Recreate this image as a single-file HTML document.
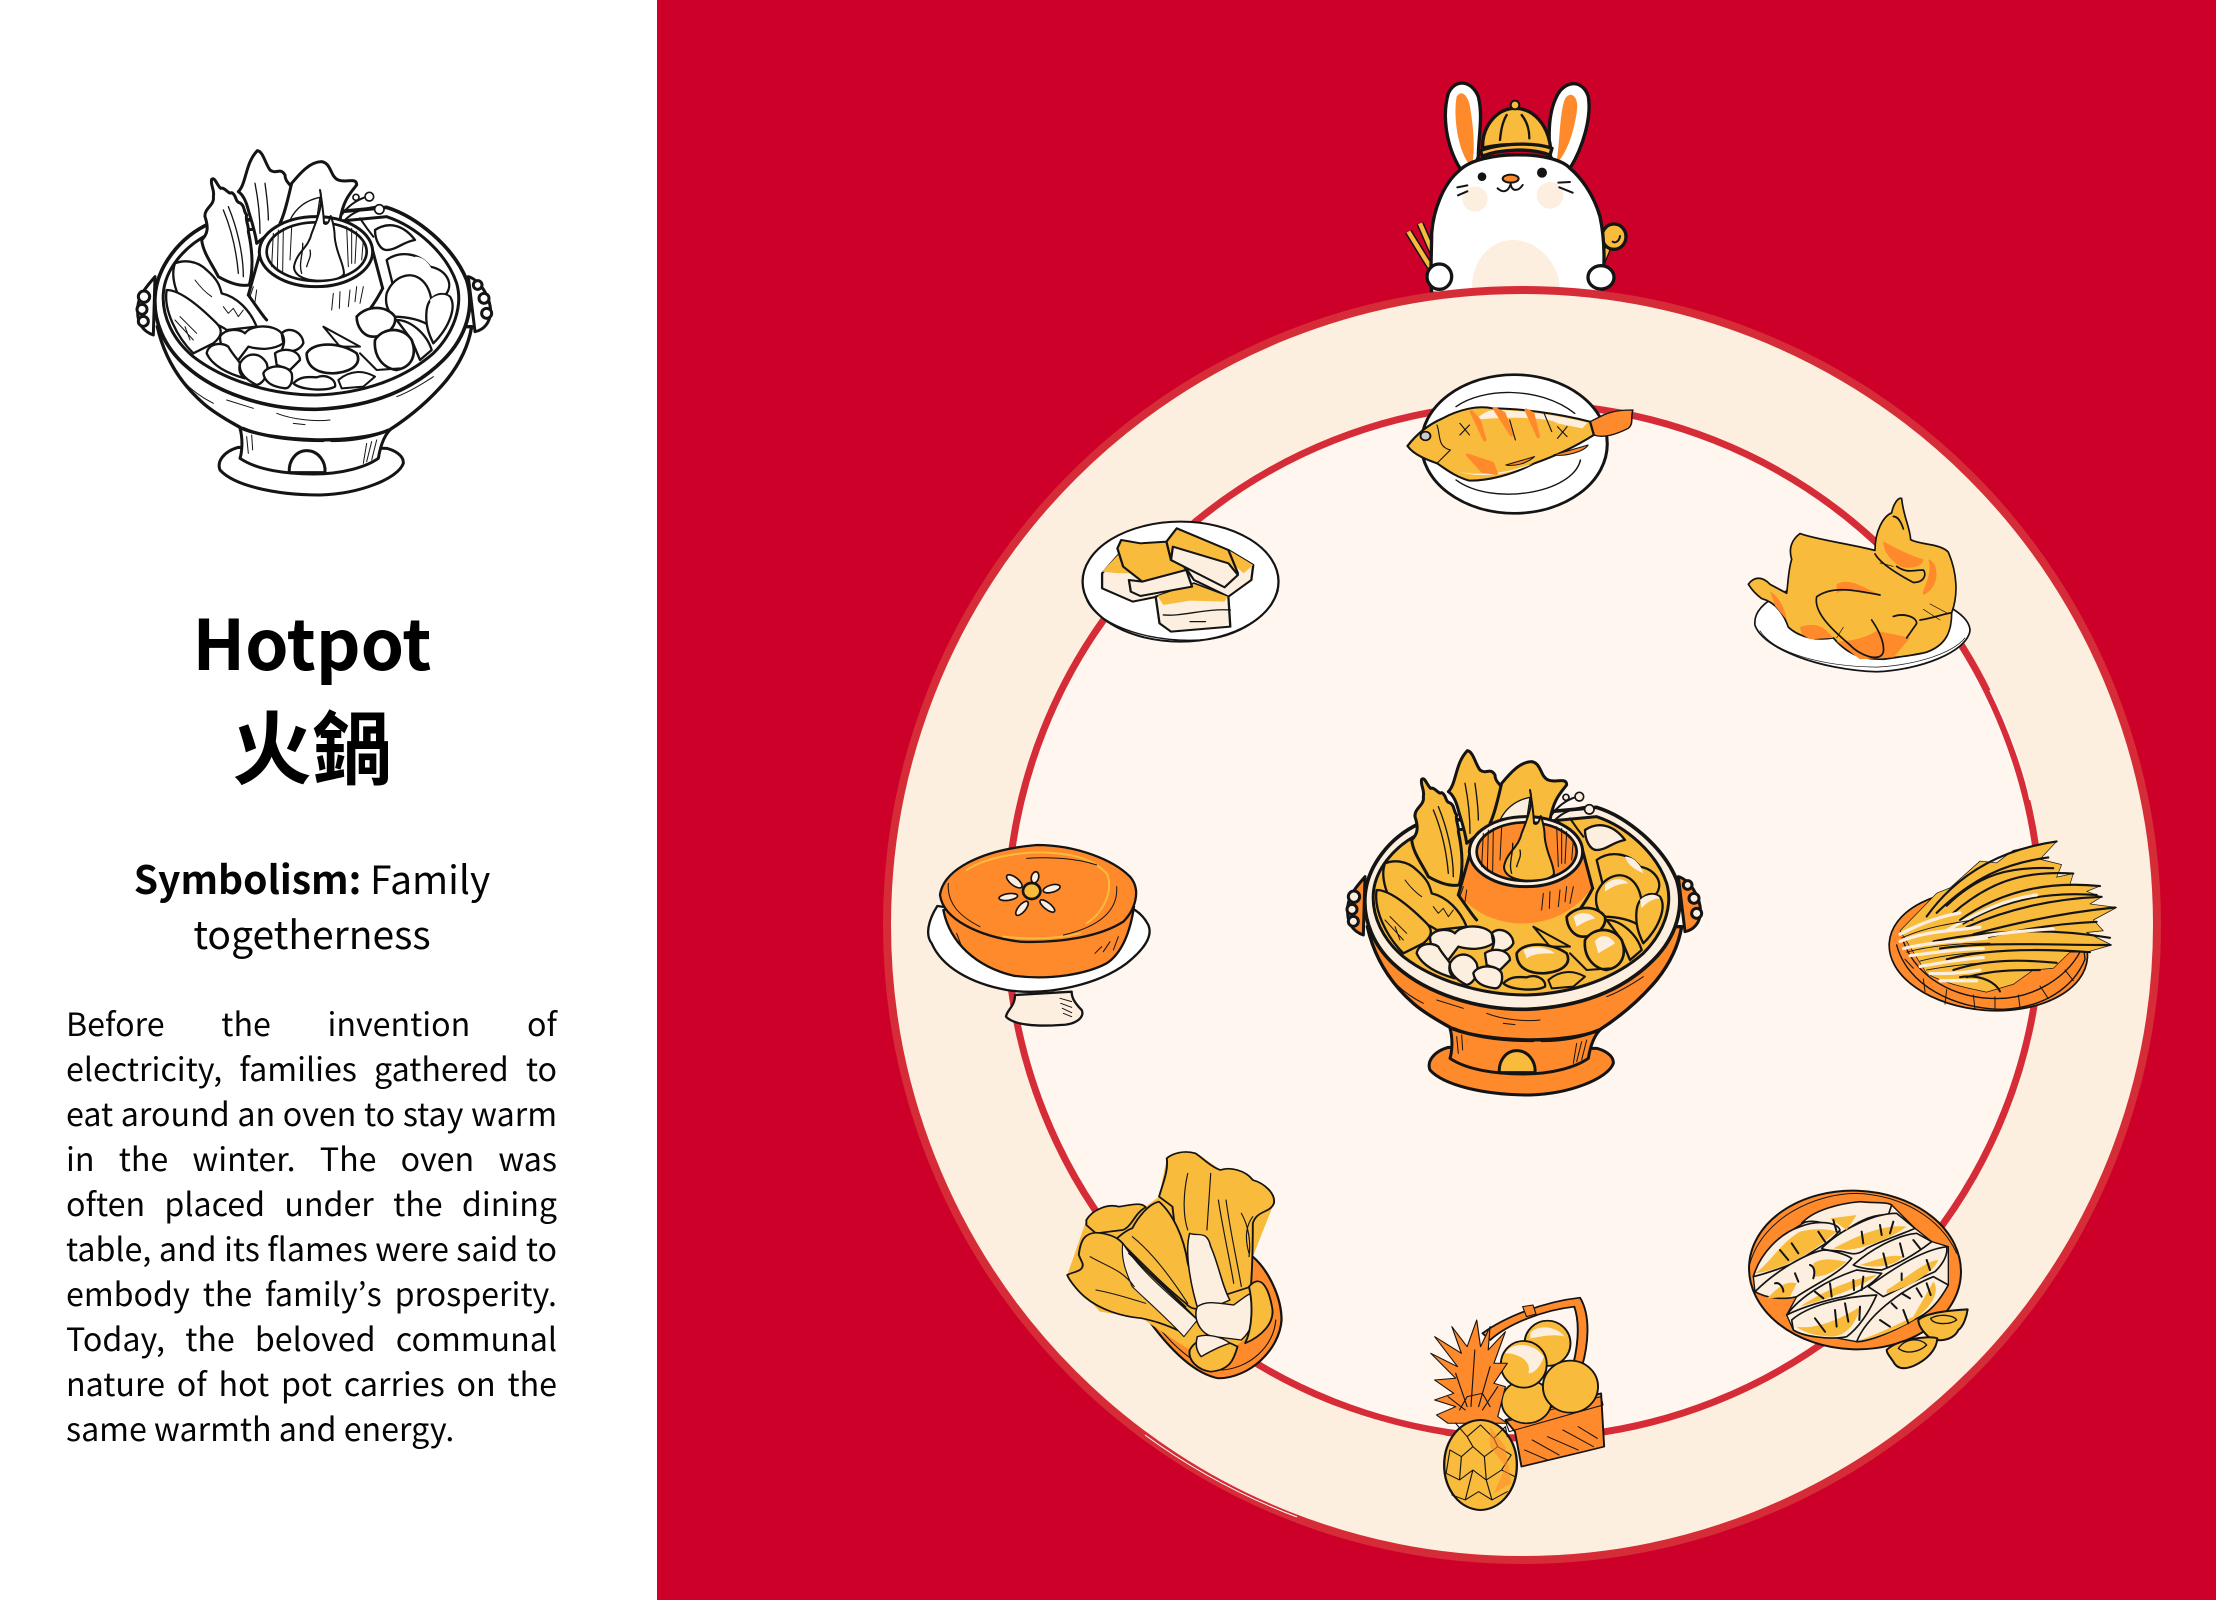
<!DOCTYPE html>
<html><head><meta charset="utf-8">
<style>
html,body{margin:0;padding:0;background:#fff}
#p{position:relative;width:2216px;height:1600px;overflow:hidden;background:#fff;font-family:"Noto Sans CJK TC","Liberation Sans",sans-serif;color:#050505}
svg{position:absolute;left:0;top:0}
.t{position:absolute;white-space:nowrap}
.c{left:0;width:624px;text-align:center}
.b{left:66px;width:491px;font-size:32.2px;line-height:45px;height:45px;text-align:justify;text-align-last:justify;white-space:normal;word-spacing:-2px}
.q{font-family:"Noto Sans CJK JP","Liberation Sans",sans-serif;font-feature-settings:"pwid"}
</style></head><body><div id="p">
<svg width="2216" height="1600" viewBox="0 0 2216 1600" xmlns="http://www.w3.org/2000/svg">
<defs>
<g id="pot" stroke="#141414" stroke-width="9" stroke-linejoin="round" stroke-linecap="round">
  <path d="M165 470C140 500 110 530 113 575C112 610 130 635 160 645Z" fill="var(--o)"/>
  <circle cx="132" cy="530" r="17" fill="var(--c)"/><circle cx="126" cy="568" r="15" fill="var(--c)"/><circle cx="130" cy="604" r="15" fill="var(--c)"/>
  <path d="M1105 470C1130 475 1170 520 1172 575C1170 610 1150 630 1125 635Z" fill="var(--o)"/>
  <circle cx="1133" cy="495" r="13" fill="var(--c)"/><circle cx="1152" cy="535" r="15" fill="var(--c)"/><circle cx="1160" cy="580" r="15" fill="var(--c)"/>
  <path d="M415 982C370 995 350 1025 360 1050C400 1095 520 1125 660 1125C780 1122 895 1075 910 1030C912 1005 880 990 860 985Z" fill="var(--o)"/>
  <path d="M420 925C430 960 425 1000 420 1015C470 1050 560 1062 640 1062C730 1062 800 1040 835 1015C840 985 850 950 870 930Z" fill="var(--o)"/>
  <path d="M568 1058C565 1020 590 992 620 992C655 992 678 1025 675 1058Z" fill="var(--y)"/>
  <path d="M172 620C190 700 230 780 310 850C350 885 400 910 425 925C520 965 760 975 868 930C930 890 990 840 1040 780C1080 730 1105 680 1115 620Z" fill="var(--o)" stroke-width="10"/>
  <path d="M430 925C500 955 590 962 670 962M695 962C760 962 820 950 865 930" fill="none"/>
  <path d="M530 880C580 900 650 905 690 900M580 910L615 914M380 840L460 865M230 760C260 800 300 830 340 850M890 830C930 815 970 790 1000 770M440 950L445 1000M830 960L815 1020M800 970L790 1030M455 945L458 990M815 965L800 1025" fill="none" stroke-width="3"/>
  <path d="M165 530C170 440 240 350 330 310L860 262C950 290 1060 380 1100 480C1125 560 1100 650 1030 720C950 800 830 860 650 868C500 870 350 820 260 740C190 680 160 600 165 530Z" fill="var(--c)" stroke-width="11"/>
  <path d="M190 520C195 450 250 380 330 340L860 290C950 320 1040 400 1070 490C1090 560 1060 640 1000 700C920 770 800 820 650 825C510 825 370 780 280 710C220 660 185 590 190 520Z" fill="var(--y)"/>
  <path d="M335 178C345 170 350 195 362 205C375 200 385 225 395 218C410 225 405 245 418 248C435 255 430 275 440 285C435 300 448 320 445 335C455 380 462 440 448 495C420 500 390 490 355 470C335 430 310 400 305 360C325 340 325 320 315 290C312 265 345 255 340 230C345 210 330 195 335 178Z" fill="var(--y)"/>
  <path d="M385 260C410 320 430 400 430 470M370 270C395 330 410 400 415 460" fill="none" stroke-width="4"/>
  <path d="M415 215C440 190 435 130 472 92C490 95 495 130 510 150C530 165 540 140 555 165C555 190 580 195 578 215C570 240 560 280 545 310L470 370C465 330 450 290 445 270C440 250 430 225 415 215Z" fill="var(--y)"/>
  <path d="M465 190C475 240 480 290 480 340M495 190C500 230 505 260 505 300" fill="none" stroke-width="4"/>
  <path d="M575 190C600 160 630 125 665 125C695 130 690 170 715 180C740 190 770 170 770 195C750 220 730 240 720 300L540 310C555 280 565 230 575 190Z" fill="var(--y)"/>
  <path d="M570 300C590 260 620 240 660 232L650 300Z" fill="var(--c)" stroke-width="4"/>
  <path d="M725 285C745 255 770 240 800 230M735 300C760 275 790 265 830 260M780 295C790 310 800 325 820 350" fill="none" stroke-width="6"/>
  <circle cx="808" cy="230" r="13" fill="var(--c)" stroke-width="5"/><circle cx="838" cy="268" r="14" fill="var(--c)" stroke-width="5"/><circle cx="768" cy="232" r="9" fill="var(--c)" stroke-width="5"/>
  <path d="M825 330C870 300 915 320 945 360C910 365 890 390 860 390C840 390 825 360 825 330Z" fill="var(--c)" stroke-width="7"/>
  <path d="M860 420C900 390 960 400 990 440C1040 450 1060 490 1040 520L990 560L880 500Z" fill="var(--y)" stroke-width="7"/>
  <path d="M945 410C975 410 995 440 1000 460C980 450 955 440 945 410Z" fill="var(--c)" stroke="none"/>
  <path d="M860 520C880 470 930 450 965 480C1000 510 1000 570 990 620C970 600 920 590 880 590C860 570 855 545 860 520Z" fill="var(--y)" stroke-width="7"/>
  <path d="M885 495C905 475 935 470 955 490C930 490 905 500 885 515Z" fill="var(--c)" stroke="none"/>
  <path d="M980 570C985 530 1020 510 1050 530C1070 560 1050 620 1000 670C985 640 975 610 980 570Z" fill="var(--y)" stroke-width="7"/>
  <path d="M990 540C1010 520 1040 520 1050 535C1030 535 1005 550 995 565Z" fill="var(--c)" stroke="none"/>
  <path d="M445 520C490 580 560 605 620 610C720 615 800 570 848 500L815 380L480 400Z" fill="var(--o)" stroke="none"/>
  <path d="M480 400L445 525M815 380L848 505" fill="none"/>
  <path d="M445 525C470 560 490 590 500 600M848 505C830 540 810 570 790 590" fill="none"/>
  <ellipse cx="648" cy="395" rx="170" ry="105" fill="var(--c)"/>
  <ellipse cx="650" cy="395" rx="150" ry="88" fill="var(--o)" stroke-width="8"/>
  <path d="M520 340L515 440M535 330L532 450M550 325L548 455M575 320L570 420M740 320L745 440M755 325L755 430M770 335L765 430M790 360L785 420M460 500L450 530M470 510L465 545M700 520L695 570M720 515L718 565M750 510L745 560M770 500L765 545M790 500L780 550" fill="none" stroke-width="3"/>
  <path d="M660 210C672 255 650 300 635 340C625 385 590 395 582 440C582 465 610 480 650 482C685 482 722 478 732 462C732 430 708 400 704 350C704 330 698 300 692 288C686 310 680 315 672 310C670 270 665 240 660 210Z" fill="var(--y)" stroke-width="6"/>
  <path d="M608 370C610 400 595 430 605 460M620 440C625 420 635 410 630 390" fill="none" stroke-width="4"/>
  <path d="M225 430C250 420 290 420 320 450C355 480 360 500 365 520C410 530 450 570 470 620L380 630C340 600 280 600 260 570C230 530 210 470 225 430Z" fill="var(--y)" stroke-width="7"/>
  <path d="M200 510C240 510 300 560 350 610C370 630 365 650 340 670L280 700C230 650 190 570 200 510Z" fill="var(--y)" stroke-width="7"/>
  <path d="M285 480C300 500 320 520 335 530M370 560L385 580L400 565L415 590L430 570M225 600L280 660M240 590L290 640M255 620L270 660" fill="none" stroke-width="3"/>
  <path d="M770 590C800 555 860 555 885 590C890 620 860 650 820 650C790 650 770 620 770 590Z" fill="var(--y)" stroke-width="8"/>
  <path d="M790 590C810 575 840 575 855 595C835 600 815 610 800 620Z" fill="var(--c)" stroke="none"/>
  <path d="M890 600C930 600 980 640 995 690L960 720L935 660Z" fill="var(--y)" stroke-width="7"/>
  <path d="M825 660C850 620 910 620 935 660C950 700 940 740 890 750C850 745 820 710 825 660Z" fill="var(--y)" stroke-width="8"/>
  <path d="M855 665C870 640 900 645 915 670C900 680 880 690 865 700Z" fill="var(--c)" stroke="none"/>
  <path d="M670 620L780 680L720 680Z" fill="var(--y)" stroke-width="6"/>
  <path d="M360 650C375 625 420 625 435 640C450 615 520 610 545 640L550 670C520 690 480 690 445 680L415 720C385 710 360 690 360 650Z" fill="var(--c)" stroke-width="7"/>
  <path d="M320 700C325 670 365 665 385 680C395 700 415 720 420 730C415 750 420 765 435 775C380 760 335 735 320 700Z" fill="var(--c)" stroke-width="7"/>
  <path d="M420 730C440 695 480 695 500 730C510 760 490 790 470 795C440 780 415 760 420 730Z" fill="var(--c)" stroke-width="7"/>
  <path d="M545 640C570 615 610 640 610 670C600 690 575 700 545 690C555 670 555 655 545 640Z" fill="var(--c)" stroke-width="7"/>
  <path d="M525 700C550 680 600 690 600 720L570 750L530 735Z" fill="var(--c)" stroke-width="7"/>
  <path d="M490 760C500 735 560 730 575 760C580 785 570 805 555 805C520 800 495 790 490 760Z" fill="var(--c)" stroke-width="7"/>
  <path d="M620 700C640 665 720 665 770 700C785 730 760 755 700 760C650 760 620 740 620 700Z" fill="var(--y)" stroke-width="8"/>
  <path d="M640 690C670 675 710 680 735 700C700 700 670 700 650 715Z" fill="var(--c)" stroke="none"/>
  <path d="M580 790C600 770 620 770 650 772C680 760 710 780 705 800C680 815 600 810 580 790Z" fill="var(--y)" stroke-width="7"/>
  <path d="M715 780C750 750 790 750 825 770L790 800L725 805Z" fill="var(--y)" stroke-width="6"/>
  <path d="M780 700L830 750L900 745" fill="none" stroke-width="6"/>
</g>
</defs>

<rect x="657" y="0" width="1559" height="1600" fill="#CD0029"/>

<g transform="translate(100 120) scale(.33333)" style="--o:#fff;--y:#fff;--c:#fff"><use href="#pot"/></g>

<!-- rabbit back -->
<g transform="translate(1340 60) scale(.33333)" stroke="#141414" stroke-width="10" stroke-linejoin="round" stroke-linecap="round">
  <path d="M205 515L270 620M240 490L290 605" fill="none" stroke="#141414" stroke-width="22" stroke-linecap="butt"/>
  <path d="M205 515L270 620M240 490L290 605" fill="none" stroke="#F9BB3C" stroke-width="13" stroke-linecap="butt"/>
  <path d="M785 610L812 545" stroke="#141414" stroke-width="20" fill="none"/>
  <path d="M785 610L812 545" stroke="#F9BB3C" stroke-width="12" fill="none"/>
  <ellipse cx="822" cy="530" rx="36" ry="38" fill="#F9BB3C"/>
  <path d="M840 528C838 545 825 550 818 545" fill="none" stroke-width="6"/>
  <path d="M360 325C320 260 305 170 325 100C345 55 395 60 415 110C430 170 415 230 415 290L400 330Z" fill="#fff"/>
  <path d="M385 310C350 260 340 160 350 110C365 85 385 110 390 140C400 200 405 260 398 305Z" fill="#FF8A2C" stroke="none"/>
  <path d="M690 325C730 260 755 170 745 110C730 60 680 60 655 100C625 150 625 220 630 285L650 330Z" fill="#fff"/>
  <path d="M650 305C670 300 705 220 712 140C712 110 695 95 680 110C660 130 660 240 650 305Z" fill="#FF8A2C" stroke="none"/>
  <path d="M360 330C310 370 280 450 275 520C275 580 270 640 275 700L785 700C795 620 795 540 780 470C760 400 720 350 690 325C640 270 420 270 360 330Z" fill="#fff"/>
  <path d="M395 690C395 600 450 540 520 540C600 540 660 620 660 690Z" fill="#FDEFDF" stroke="none"/>
  <circle cx="405" cy="417" r="38" fill="#FDEFDF" stroke="none"/><circle cx="630" cy="406" r="40" fill="#FDEFDF" stroke="none"/>
  <circle cx="426" cy="350" r="13" fill="#141414" stroke="none"/><circle cx="606" cy="338" r="15" fill="#141414" stroke="none"/>
  <ellipse cx="512" cy="356" rx="24" ry="12" fill="#FF8A2C" stroke-width="6"/>
  <path d="M473 385C490 400 505 395 512 372C515 395 535 395 548 375M352 382L382 376M354 406L382 394M655 368L690 366M658 382L698 398" fill="none" stroke-width="6"/>
  <path d="M428 265C425 200 470 145 525 145C585 145 625 200 632 265C570 250 480 250 428 265Z" fill="#F9BB3C"/>
  <path d="M421 272C480 250 580 245 636 265L630 285C570 262 480 268 427 288Z" fill="#F9BB3C"/>
  <circle cx="525" cy="135" r="13" fill="#F9BB3C" stroke-width="6"/>
  <path d="M500 165C485 190 482 220 480 240M545 165C565 190 568 215 568 235" fill="none" stroke-width="7"/>
</g>

<!-- circles -->
<circle cx="1522" cy="925" r="635" fill="#FDEFDF" stroke="#D62C38" stroke-width="8"/>
<circle cx="1524" cy="921" r="517" fill="#FEF6EF" stroke="#D62C38" stroke-width="7"/>
<path d="M1990 690C2010 730 2025 775 2030 800" fill="none" stroke="#FEF6EF" stroke-width="1.5"/>
<path d="M1260 1372C1320 1405 1380 1425 1445 1436" fill="none" stroke="#FDEFDF" stroke-width="1.5"/>
<path d="M1145 1435A634 634 0 0 0 1297 1517" fill="none" stroke="#fff" stroke-width="1"/>

<g transform="translate(1340 60) scale(.33333)" stroke="#141414" stroke-width="10">
  <ellipse cx="298" cy="650" rx="37" ry="38" fill="#fff"/><ellipse cx="783" cy="652" rx="39" ry="35" fill="#fff"/>
</g>

<!-- color pot -->
<g transform="translate(1310 720) scale(.33333)" style="--o:#FF8A2C;--y:#F9BB3C;--c:#FDEFDF"><use href="#pot"/></g>

<!-- fish -->
<g transform="translate(1060 360) scale(.3827 .3333)" stroke="#141414" stroke-width="8" stroke-linejoin="round" stroke-linecap="round">
  <ellipse cx="1187" cy="252" rx="243" ry="208" fill="#fff"/>
  <path d="M1035 140C1100 85 1250 75 1345 160M1360 300C1340 400 1130 440 1035 360" fill="none" stroke-width="4"/>
  <path d="M1385 185L1420 165C1450 150 1480 150 1497 150C1490 175 1500 190 1485 205C1450 225 1420 235 1395 225Z" fill="#FF8A2C" stroke-width="4"/>
  <path d="M908 258C930 225 960 195 1000 175C1040 150 1090 135 1130 145C1200 145 1300 160 1385 185L1395 225C1340 265 1290 290 1240 310C1180 345 1120 362 1070 362C1030 350 1000 320 985 310C960 300 925 285 908 258Z" fill="#F9BB3C" stroke-width="6"/>
  <path d="M1130 150C1200 150 1300 165 1378 188L1365 205L1300 190C1280 170 1150 170 1085 180C1100 165 1110 155 1130 150Z" fill="#FDEFDF" stroke="none"/>
  <path d="M1040 335C1100 355 1170 345 1235 312L1210 320C1150 345 1080 345 1040 335Z" fill="#FDEFDF" stroke="none"/>
  <path d="M1075 155L1110 240L1095 180ZM1135 145L1180 225L1160 160ZM1218 150L1250 230L1235 160ZM1065 285L1130 310L1140 340L1105 335Z" fill="#FF8A2C" stroke="#FF8A2C" stroke-width="9"/>
  <path d="M1165 315L1240 290C1220 310 1190 320 1165 315ZM1290 285L1380 255C1370 275 1320 290 1290 285Z" fill="#FF8A2C" stroke-width="3"/>
  <circle cx="955" cy="228" r="13" fill="#ccc" stroke-width="5"/>
  <path d="M985 195C995 225 985 260 1020 270L985 310M1045 190L1070 225M1070 195L1045 225M1175 180L1190 240M1300 200L1325 230M1325 200L1300 235M1265 160L1285 215" fill="none" stroke-width="3"/>
</g>

<!-- tofu -->
<g transform="translate(1060 360) scale(.3827 .3333)" stroke="#141414" stroke-width="6" stroke-linejoin="round" stroke-linecap="round">
  <ellipse cx="315" cy="665" rx="256" ry="180" fill="#fff"/>
  <path d="M70 720C100 800 250 855 390 838C470 825 550 770 570 690" fill="none" stroke-width="4"/>
  <path d="M110 640L160 575L330 630L340 690L190 725L110 685Z" fill="#FDEFDF"/>
  <path d="M110 635L160 575L200 640L150 640Z" fill="#F9BB3C" stroke="none"/>
  <path d="M300 575L440 570L505 615L500 660L440 710L350 660Z" fill="#FDEFDF"/>
  <path d="M440 570L505 615L480 640L450 610Z" fill="#F9BB3C" stroke="none"/>
  <path d="M250 710L350 670L440 710L445 800L290 815L260 790Z" fill="#FDEFDF"/>
  <path d="M255 708L350 672L438 710L430 725L340 722L270 735Z" fill="#F9BB3C" stroke="none"/>
  <path d="M270 765C320 770 380 745 445 750M340 785L380 785" fill="none" stroke-width="4"/>
  <path d="M150 565L160 540L210 550L280 545L330 630L215 665L165 620Z" fill="#F9BB3C"/>
  <path d="M180 660L215 665L330 630L345 680L210 708L185 695Z" fill="#FDEFDF"/>
  <path d="M278 545L305 505L440 570L465 640L430 680L290 600Z" fill="#F9BB3C"/>
  <path d="M295 560L440 610L465 645L430 682L290 600Z" fill="#FDEFDF"/>
</g>

<!-- chicken -->
<g transform="translate(1720 470) scale(.33333 .35714)" stroke="#141414" stroke-width="5" stroke-linejoin="round" stroke-linecap="round">
  <path d="M210 335C130 365 100 400 105 435C130 500 300 560 470 565C600 560 740 510 750 450C750 425 725 405 700 390Z" fill="#fff"/>
  <path d="M120 450C160 510 300 550 470 552C600 545 700 510 735 470" fill="none" stroke-width="2"/>
  <path d="M85 320C100 300 125 295 150 320L200 345C205 310 205 280 215 250C205 220 215 195 240 178C290 195 380 205 465 225C465 170 490 130 515 120C520 95 535 75 545 80C550 130 570 160 572 195C600 210 660 205 685 230C712 290 715 350 695 400C695 450 680 490 620 510C580 520 520 525 490 530C440 530 390 525 340 470C290 478 240 470 205 440C190 400 165 370 125 360C110 350 95 335 85 320Z" fill="#F9BB3C"/>
  <path d="M240 440C270 430 300 430 325 455L340 470L270 474L245 460ZM150 340C170 350 195 380 200 420L165 380ZM490 200C520 215 570 240 610 250C610 270 570 280 540 270C510 250 490 230 490 200ZM625 250C660 260 660 330 610 350C600 340 640 300 625 250ZM350 320C390 300 430 330 470 345L430 340C400 335 370 335 350 345ZM350 480C390 480 440 470 470 450L570 470L520 525L420 530Z" fill="#FF8A2C" stroke="none"/>
  <path d="M290 355C340 320 420 340 480 350M290 355C280 400 340 450 390 490C420 520 480 540 490 510C495 480 470 440 455 420M465 235C480 260 530 290 580 315C615 315 620 290 610 280C580 280 560 290 530 270M520 410C550 400 590 410 590 430L560 470M600 420C640 415 680 400 695 400M520 130C535 130 545 150 550 165" fill="none"/>
  <path d="M610 390L660 420M630 375L680 400M480 260L520 270M350 470L370 440" fill="none" stroke-width="2"/>
</g>

<!-- leeks basket -->
<g transform="translate(1720 470) scale(.33333 .35714)" stroke-linecap="round" stroke-linejoin="round">
  <ellipse cx="805" cy="1345" rx="298" ry="168" transform="rotate(4 805 1345)" fill="#FF8A2C" stroke="#141414" stroke-width="5"/>
  <path d="M530 1330C560 1440 700 1510 850 1510C970 1505 1060 1450 1095 1370L1090 1330C1050 1420 940 1480 830 1480C700 1480 590 1420 550 1320" fill="#FF8A2C" stroke="#141414" stroke-width="4"/>
  <path d="M610 1425L615 1460M680 1455L675 1495M760 1470L765 1510M825 1475L825 1510M895 1470L900 1505M960 1445L985 1480M1035 1400L1060 1430M555 1370L580 1395" stroke="#141414" stroke-width="3"/>
  <path d="M540 1290L650 1185L690 1170L780 1095L830 1100L880 1065L1010 1040L960 1090L1025 1105L1010 1140L1060 1130L1050 1160L1140 1165L1100 1180L1145 1195L1110 1215L1190 1225L1120 1260L1150 1290L1100 1295L1175 1330L1100 1350L1050 1350L1000 1395L940 1400L880 1440L800 1462C740 1450 680 1440 620 1410Z" fill="#F9BB3C" stroke="#141414" stroke-width="2"/>
  <g fill="none" stroke="#141414" stroke-width="6">
    <path d="M620 1250C720 1120 860 1060 1010 1040M650 1240C760 1140 860 1100 985 1085M680 1220C780 1130 870 1110 1000 1115M700 1240C800 1160 900 1120 1060 1130M720 1260C840 1180 980 1150 1140 1165M730 1270C860 1200 990 1180 1130 1190M740 1280C860 1230 1000 1200 1145 1195M760 1300C880 1270 1020 1240 1185 1225M770 1315C880 1290 1010 1270 1130 1265M640 1320C800 1290 980 1280 1170 1310M660 1340C800 1320 980 1330 1170 1330M680 1370C800 1340 960 1340 1110 1350M700 1400C800 1370 900 1370 1010 1380M740 1420C820 1400 880 1400 960 1400M720 1420C790 1410 830 1440 840 1460"/>
  </g>
  <g fill="none" stroke="#FDEFDF" stroke-width="9">
    <path d="M540 1300C600 1270 660 1250 720 1240M540 1320C620 1290 700 1290 780 1280M550 1340C640 1320 720 1320 800 1310M570 1360C650 1350 730 1340 790 1340M600 1390C660 1380 720 1370 790 1365M630 1410C680 1410 720 1410 780 1400M660 1430C700 1430 740 1430 770 1430M680 1290C770 1240 860 1200 950 1190M720 1320C800 1300 900 1290 1000 1285"/>
  </g>
  <g fill="none" stroke="#141414" stroke-width="2.5">
    <path d="M545 1310C620 1280 690 1270 760 1260M560 1350C640 1330 740 1325 810 1325M620 1400C680 1390 720 1385 790 1380M600 1375C660 1360 720 1355 780 1350"/>
  </g>
</g>

<!-- pudding -->
<g transform="translate(900 820) scale(.33333)" stroke="#141414" stroke-width="7" stroke-linejoin="round" stroke-linecap="round">
  <path d="M345 525C345 560 320 570 318 590C340 615 410 620 480 615C530 615 555 590 545 570C520 545 515 530 515 515Z" fill="#FDEFDF"/>
  <path d="M480 535L515 545M482 550L515 562M487 565L515 578M490 580L515 590" fill="none" stroke-width="3"/>
  <path d="M112 258C85 300 75 345 95 370C125 440 210 490 320 510C450 530 600 490 680 430C730 390 760 350 745 315C735 295 720 280 705 270L400 300Z" fill="#fff"/>
  <path d="M130 270C150 370 230 440 340 467C450 482 560 462 620 430C665 400 690 340 702 260L420 230Z" fill="#FF8A2C"/>
  <path d="M120 225C130 150 240 90 410 75C530 75 640 120 690 170C725 210 705 270 670 305C600 350 480 370 360 365C240 350 130 300 120 225Z" fill="#FF8A2C"/>
  <path d="M200 150C260 110 380 90 470 100C530 105 580 120 620 160C640 200 620 270 560 310M310 350C400 360 480 355 540 340" fill="none" stroke="#F9BB3C" stroke-width="6"/>
  <path d="M145 190C140 250 180 290 240 320M380 115C450 110 530 115 590 135M650 200C655 270 600 320 490 345M170 340L185 380M605 380L585 400M630 365L610 395M655 350L640 390" fill="none" stroke-width="3"/>
  <ellipse cx="395" cy="213" rx="26" ry="24" fill="#F9BB3C" stroke-width="8"/>
  <g fill="#FDEFDF" stroke-width="5">
    <ellipse cx="343" cy="184" rx="28" ry="12" transform="rotate(38 343 184)"/>
    <ellipse cx="405" cy="172" rx="11" ry="17" transform="rotate(15 405 172)"/>
    <ellipse cx="455" cy="206" rx="26" ry="11" transform="rotate(-15 455 206)"/>
    <ellipse cx="325" cy="231" rx="28" ry="10" transform="rotate(-8 325 231)"/>
    <ellipse cx="366" cy="265" rx="26" ry="11" transform="rotate(-50 366 265)"/>
    <ellipse cx="442" cy="258" rx="27" ry="10" transform="rotate(38 442 258)"/>
  </g>
</g>

<!-- cabbage -->
<g transform="translate(1050 1130) scale(.3827 .3333)" stroke="#141414" stroke-width="5" stroke-linejoin="round" stroke-linecap="round">
  <path d="M248 555C300 640 370 730 440 745C520 745 600 660 605 570C605 500 570 420 530 380Z" fill="#FF8A2C" stroke-width="6"/>
  <path d="M270 570C320 650 390 720 450 720C520 715 585 650 590 570" fill="none" stroke-width="3"/>
  <path d="M95 270L250 230L285 200L305 85L385 70L445 120L530 150L585 220L530 380L520 620L420 700L365 660L240 565L130 545L45 435L80 320Z" fill="#F9BB3C" stroke="none"/>
  <path d="M305 85C320 70 350 60 380 70C400 85 420 110 445 120C470 110 510 120 530 150C560 160 590 190 585 220C575 250 540 240 530 280C530 320 530 390 525 470L390 520L330 330L320 230L285 200C295 160 310 120 305 85Z" fill="#F9BB3C"/>
  <path d="M360 130C350 180 345 250 360 300M420 130L410 300M460 210C470 300 490 400 500 470M500 250C520 290 525 340 520 380M530 260C510 290 510 330 520 370M440 210C450 290 470 390 480 460" fill="none" stroke-width="3"/>
  <path d="M95 270C110 240 150 220 180 230C210 225 240 215 250 232C220 250 215 290 190 300L120 310L95 285Z" fill="#F9BB3C"/>
  <path d="M215 295C230 260 260 220 285 215C320 250 350 320 360 400L395 530C390 540 370 540 355 520C300 470 240 400 175 325C185 315 200 300 215 295Z" fill="#F9BB3C"/>
  <path d="M75 375C80 330 90 310 120 308C150 310 175 320 190 340C240 420 320 490 385 570L350 610C300 580 260 570 240 565C190 560 130 540 90 500C70 480 50 450 45 435C60 425 90 425 85 400Z" fill="#F9BB3C"/>
  <path d="M190 340C240 430 320 500 385 570L350 620C310 570 270 530 215 470C200 430 185 390 190 340Z" fill="#FDEFDF" stroke-width="3"/>
  <path d="M215 320C270 370 320 450 360 520M205 370C260 430 310 480 355 530M105 380C150 410 190 420 220 470M120 480C170 490 220 510 250 520" fill="none" stroke-width="3"/>
  <path d="M365 310C390 320 410 300 420 350C440 400 450 470 470 510L390 550C370 480 350 370 365 310Z" fill="#FDEFDF" stroke-width="4"/>
  <path d="M385 530C410 510 440 520 480 525C510 500 540 470 540 500C530 540 540 590 500 630L430 620C400 620 370 570 385 530Z" fill="#FDEFDF" stroke-width="4"/>
  <path d="M365 660C390 610 440 620 490 650C480 690 470 720 420 725C385 720 360 690 365 660Z" fill="#F9BB3C"/>
  <path d="M385 620C410 610 450 620 470 640C440 650 410 670 395 680C380 660 380 640 385 620Z" fill="#FDEFDF" stroke-width="4"/>
  <path d="M520 470C550 430 570 470 580 530C590 580 550 620 510 640C530 590 530 520 520 470Z" fill="#F9BB3C"/>
</g>

<!-- basket + pineapple -->
<g transform="translate(1050 1130) scale(.3827 .3333)" stroke="#141414" stroke-width="5" stroke-linejoin="round" stroke-linecap="round">
  <path d="M1130 610C1190 560 1290 515 1385 503C1415 560 1405 650 1390 710L1368 700C1380 640 1385 580 1370 530C1290 540 1200 580 1150 630Z" fill="#FF8A2C"/>
  <path d="M1235 530L1262 525L1270 552L1245 560Z" fill="#FF8A2C" stroke-width="3"/>
  <path d="M1190 870L1440 790L1448 950L1395 965L1232 1010L1215 905Z" fill="#FF8A2C"/>
  <path d="M1190 875L1440 800L1445 825L1200 905ZM1240 960L1300 990M1260 930L1330 975M1300 920L1380 960M1340 900L1420 950M1380 890L1430 925" fill="none" stroke-width="3"/>
  <ellipse cx="1300" cy="640" rx="60" ry="68" fill="#F9BB3C"/>
  <path d="M1255 610C1270 585 1320 585 1345 620C1320 610 1280 620 1255 625Z" fill="#FDEFDF" stroke="none"/>
  <ellipse cx="1245" cy="815" rx="65" ry="65" fill="#F9BB3C"/>
  <ellipse cx="1360" cy="770" rx="72" ry="78" fill="#F9BB3C"/>
  <ellipse cx="1238" cy="703" rx="60" ry="70" fill="#F9BB3C"/>
  <path d="M1190 670C1200 640 1260 630 1290 680C1285 700 1270 730 1250 730C1260 690 1220 670 1190 670Z" fill="#FDEFDF" stroke="none"/>
  <path d="M1040 880L1010 855L1060 830L1005 810L1055 790L1005 750L1060 745L995 670L1065 710L1005 620L1075 670L1050 590L1090 650L1115 570L1125 650L1150 590L1145 660L1190 605L1160 700L1195 700L1160 760L1190 770L1170 860L1195 880Z" fill="#FF8A2C" stroke-width="3"/>
  <path d="M1100 830L1110 660M1090 830L1060 730M1085 840L1040 800M1120 830L1150 710M1130 840L1170 770M1070 840L1090 800L1130 790L1150 830" fill="none" stroke-width="3"/>
  <ellipse cx="1125" cy="1005" rx="95" ry="135" fill="#F9BB3C" stroke-width="6"/>
  <path d="M1060 880L1090 920L1125 885L1160 925L1190 890L1195 920M1045 960L1075 980L1105 950L1135 980L1170 950L1205 975M1035 1030L1070 1050L1105 1020L1140 1050L1180 1020L1215 1040M1050 1095L1085 1110L1120 1085L1155 1110L1195 1085M1090 920L1105 950M1160 925L1170 950M1075 980L1070 1050M1135 980L1140 1050M1205 975L1180 1020M1045 960L1035 1030M1105 1020L1085 1110M1140 1050L1155 1110" fill="none" stroke-width="3"/>
  <path d="M1150 890L1190 950L1205 1060L1160 1090L1190 1010L1150 950Z" fill="#FF8A2C" stroke="none" opacity=".55"/>
</g>

<!-- dumplings -->
<g transform="translate(1700 1160) scale(.33333)" stroke="#141414" stroke-width="5" stroke-linejoin="round" stroke-linecap="round">
  <ellipse cx="465" cy="330" rx="318" ry="238" fill="#FF8A2C" stroke-width="6" transform="rotate(2 465 330)"/>
  <path d="M150 310C190 170 350 100 470 100C600 105 720 170 770 280" fill="none" stroke-width="3"/>
  <path d="M160 350C200 250 300 170 480 125L575 135L645 205L695 245L745 260L745 375L640 480L470 545L280 510L260 465L290 410L165 395Z" fill="#FDEFDF" stroke-width="4"/>
  <g fill="#FDEFDF" stroke-width="5">
    <path d="M305 190C340 150 420 130 480 125C520 130 560 125 575 135L565 165C500 160 440 210 425 220C390 190 340 175 305 190Z"/>
    <path d="M160 350C180 280 240 220 300 200C350 180 410 185 420 210C390 250 340 270 300 300C260 320 200 340 160 350Z"/>
    <path d="M365 265C420 210 520 160 590 160L645 205C600 225 550 240 500 265C470 290 450 280 430 275C410 270 385 275 365 265Z"/>
    <path d="M165 395C230 330 320 280 370 270C400 270 440 285 455 295C420 340 350 370 290 410C250 420 200 415 165 395Z"/>
    <path d="M460 315C510 270 590 225 650 220L695 245C650 280 600 310 545 330C520 330 480 325 460 315Z"/>
    <path d="M505 380C560 340 660 270 740 260C745 290 720 320 705 335C670 350 610 380 550 410Z"/>
    <path d="M260 465C300 410 380 360 470 330L545 340C510 380 470 400 430 410C380 420 310 440 260 465Z"/>
    <path d="M275 480C320 440 420 410 530 405C510 450 480 500 440 530C390 540 310 530 280 510Z"/>
    <path d="M470 545C500 470 600 390 700 350L745 375C720 420 690 460 640 480C590 510 510 545 470 545Z"/>
  </g>
  <g fill="#F9BB3C" stroke="none">
    <path d="M390 175L470 165L440 210ZM165 340C210 310 240 250 300 215C340 205 380 205 410 215C360 260 260 330 165 340ZM400 265C450 240 540 190 620 200C580 230 500 265 440 270ZM200 415C230 390 250 360 290 370L270 410ZM340 310C370 290 410 300 440 305C400 340 370 350 340 350ZM480 315C530 300 570 280 610 290C580 320 530 325 480 315ZM560 390C610 360 680 300 715 300C700 340 620 385 560 400ZM300 440C360 400 440 360 530 345C490 380 360 425 300 440ZM290 500C340 510 420 480 480 440C470 490 440 525 400 530C360 530 310 520 290 500ZM480 540C540 520 620 480 640 470L700 365C720 390 700 440 640 480C590 510 510 540 480 540Z"/>
  </g>
  <path d="M275 250L295 280M240 270L265 300M355 215L375 245M400 180L410 215M485 215L490 250M540 195L545 225M580 185L570 220M285 340L295 365M330 315C345 320 345 340 340 355M225 370C240 365 250 385 250 395M550 280L560 320M600 250L610 290M640 240L660 265M605 340L605 360M680 300L690 330M390 370L395 410M460 360L462 390M490 350L485 390M345 395L370 415M435 430L445 485M405 450L410 500M345 475L375 515M480 440L478 480M605 400L630 415M650 385L665 410M680 370L692 405M575 430L590 445M610 450L625 490M540 480L570 500" fill="none" stroke-width="6"/>
  <g fill="#F9BB3C" stroke-width="6">
    <path d="M655 480C680 455 770 450 803 448C800 470 790 500 775 510C760 545 700 550 680 525C665 510 655 495 655 480Z"/>
    <path d="M692 475C720 460 760 465 770 480C750 495 700 495 692 475Z" stroke-width="4"/>
    <path d="M560 570C590 540 680 525 712 535C710 570 680 600 640 618C610 630 590 625 580 605C570 590 560 580 560 570Z"/>
    <path d="M595 565C620 530 665 535 680 555C660 575 620 585 595 565Z" stroke-width="4"/>
  </g>
</g>
</svg>

<div class="t c" style="top:591px;font-size:69.5px;font-weight:700;line-height:100px;color:#000">Hotpot</div>
<div class="t c" style="top:689px;font-size:80px;font-weight:700;line-height:110px;color:#000">火鍋</div>
<div class="t c" style="top:851px;font-size:39px;line-height:55px"><b>Symbolism:</b> Family</div>
<div class="t c" style="top:906px;font-size:39px;line-height:55px">togetherness</div>

<div class="t b" style="top:1001px">Before the invention of</div>
<div class="t b" style="top:1046px">electricity, families gathered to</div>
<div class="t b" style="top:1091px">eat around an oven to stay warm</div>
<div class="t b" style="top:1136px">in the winter. The oven was</div>
<div class="t b" style="top:1181px">often placed under the dining</div>
<div class="t b" style="top:1226px">table, and its flames were said to</div>
<div class="t b" style="top:1271px">embody the family<span class="q">’</span>s prosperity.</div>
<div class="t b" style="top:1316px">Today, the beloved communal</div>
<div class="t b" style="top:1361px">nature of hot pot carries on the</div>
<div class="t b" style="top:1406px;text-align-last:left;word-spacing:0">same warmth and energy.</div>
</div></body></html>
